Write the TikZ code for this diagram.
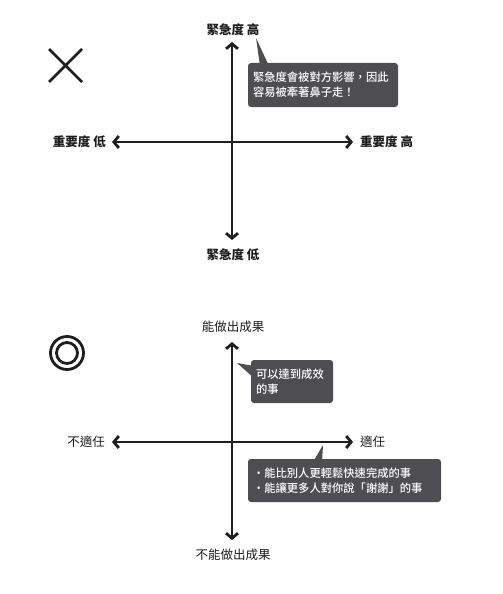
\documentclass[tikz,border=0pt]{standalone}
\usepackage{fontspec}
\setmainfont{Noto Sans CJK TC}
\newfontfamily\medfont{Noto Sans CJK TC Medium}
\usepackage{tikz}
\usetikzlibrary{positioning, arrows.meta}

\definecolor{axisblack}{HTML}{1E1E1E}
\definecolor{calloutgray}{HTML}{4E4D51}

\begin{document}
\begin{tikzpicture}[
    % GLOBAL CFG
    x=1pt, y=-1pt,
    >={Straight Barb[length=5pt, width=12pt]},
    % Styles
    axis/.style={% For the two arrows of a chart
        <->,
        line width=2.8pt,
        draw=axisblack,
        },
    boldlabel/.style={% For the labels of the first chart
        font=\fontsize{12.5}{14}\selectfont\bfseries,
        text=axisblack,
        inner sep=0pt,
        },
    plainlabel/.style={% For the labels of the second chart
        font=\fontsize{12.5}{14}\selectfont,
        text=axisblack,
        inner sep=0pt,
        },
    callout/.style={% For the dark boxes
        rectangle,
        rounded corners=3pt,
        fill=calloutgray,
        text=white,
        align=left,
        inner sep=0pt,
        font=\fontsize{11.3}{15}\selectfont\medfont,
        },
    pointer/.style={% For the tail of a dark box
        fill=calloutgray,
        },
    ]

\useasboundingbox (0,0) rectangle (503,594);

%First chart: urgency / importance
    % the cross
    \coordinate (cross_a) at (49,49);
    \coordinate (cross_b) at (82,82);
    \coordinate (cross_c) at (82,49);
    \coordinate (cross_d) at (49,82);
    \draw [line width=2.6pt, axisblack] (cross_a) -- (cross_b);
    \draw [line width=2.6pt, axisblack] (cross_c) -- (cross_d);

    % axis ends
    \coordinate (u_top) at (232,42);
    \coordinate (u_bottom) at (232,240);
    \coordinate (i_left) at (112,142);
    \coordinate (i_right) at (353,142);

    \node [boldlabel] (urgent_high) at (233,30) {緊急度 高};
    \node [boldlabel] (urgent_low) at (233,255) {緊急度 低};
    \node [boldlabel, anchor=east] (imp_low) at (106,142) {重要度 低};
    \node [boldlabel, anchor=west] (imp_high) at (360,142) {重要度 高};

    \draw [axis] (u_top) -- (u_bottom);
    \draw [axis] (i_left) -- (i_right);

    % callout
    \coordinate (tip_one) at (256,38);
    \coordinate (base_one_a) at (260,66);
    \coordinate (base_one_b) at (269,66);
    \fill [pointer] (tip_one) -- (base_one_b) -- (base_one_a) -- cycle;
    \node [callout, minimum width=150pt, minimum height=44pt, text width=140pt] (note_one) at (323,85)
        {緊急度會被對方影響，因此\\容易被牽著鼻子走！};

%Second chart: results / fitness
    % the double circle
    \node [circle, draw=axisblack, line width=2.8pt, minimum size=33pt, inner sep=0pt] (ring_out) at (67,353) {};
    \node [circle, draw=axisblack, line width=2.8pt, minimum size=21pt, inner sep=0pt] (ring_in) at (ring_out.center) {};

    \coordinate (r_top) at (232,342);
    \coordinate (r_bottom) at (232,540);
    \coordinate (f_left) at (112,442);
    \coordinate (f_right) at (353,442);

    \node [plainlabel] (result_yes) at (233,327) {能做出成果};
    \node [plainlabel] (result_no) at (233,555) {不能做出成果};
    \node [plainlabel, anchor=east] (fit_no) at (105,442) {不適任};
    \node [plainlabel, anchor=west] (fit_yes) at (360,442) {適任};

    \draw [axis] (r_top) -- (r_bottom);
    \draw [axis] (f_left) -- (f_right);

    % callouts
    \coordinate (tip_two) at (237,363);
    \coordinate (base_two_a) at (254,366);
    \coordinate (base_two_b) at (254,378);
    \fill [pointer] (tip_two) -- (base_two_a) -- (base_two_b) -- cycle;
    \node [callout, minimum width=82pt, minimum height=43pt, text width=72pt] (note_two) at (292,381.5)
        {可以達到成效\\的事};

    \coordinate (tip_three) at (323,445);
    \coordinate (base_three_a) at (313,462);
    \coordinate (base_three_b) at (322,462);
    \fill [pointer] (tip_three) -- (base_three_b) -- (base_three_a) -- cycle;
    \node [callout, minimum width=193pt, minimum height=43pt, text width=183pt] (note_three) at (344.5,480.5)
        {・能比別人更輕鬆快速完成的事\\・能讓更多人對你說「謝謝」的事};

\end{tikzpicture}
\end{document}
